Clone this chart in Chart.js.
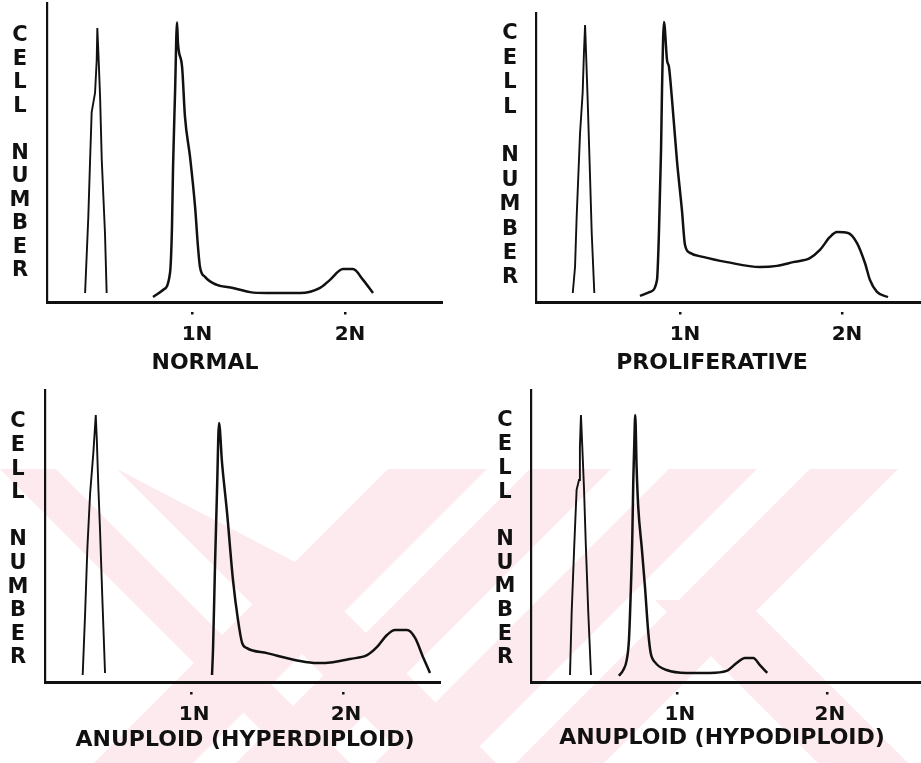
<!DOCTYPE html>
<html>
<head>
<meta charset="utf-8">
<script src="https://cdn.jsdelivr.net/npm/chart.js@4.4.1/dist/chart.umd.min.js"></script>
<style>
html,body{margin:0;padding:0;background:#fff;overflow:hidden}
#wrap{position:relative;width:921px;height:763px}
#wm{position:absolute;left:0;top:0}
canvas{position:absolute}
</style>
</head>
<body>
<div id="wrap">
<svg id="wm" width="921" height="763" xmlns="http://www.w3.org/2000/svg">
  <defs><clipPath id="band"><rect x="0" y="469" width="921" height="294"/></clipPath></defs>
  <g fill="#fdeaee" clip-path="url(#band)">
    <polygon points="0,469 56,469 350,763 294,763"/>
    <polygon points="117,469 295,562 496,763 411,763"/>
    <polygon points="388,469 487,469 193,763 94,763"/>
    <polygon points="530,469 611,469 317,763 236,763"/>
    <polygon points="669,469 757,469 463,763 375,763"/>
    <polygon points="810,469 898,469 604,763 516,763"/>
    <polygon points="655,600 745,600 908,763 818,763"/>
  </g>
</svg>
<canvas id="c1" width="460" height="380" style="left:0;top:0"></canvas>
<canvas id="c2" width="461" height="380" style="left:460px;top:0"></canvas>
<canvas id="c3" width="460" height="383" style="left:0;top:380px"></canvas>
<canvas id="c4" width="461" height="383" style="left:460px;top:380px"></canvas>
</div>
<script>
// ---- data (x in units of DNA content N, y in relative cell number) ----
const tickValues = [1, 2];
const tickSuffix = 'N';
const yAxisLabel = 'CELL NUMBER';
const captions = ['NORMAL', 'PROLIFERATIVE', 'ANUPLOID (HYPERDIPLOID)', 'ANUPLOID (HYPODIPLOID)'];

// NORMAL
const normalStdX = [0.301,0.322,0.333,0.344,0.366,0.377,0.381,0.388,0.399,0.410,0.431,0.442];
const normalStdY = [3.0,28.4,46.5,63.5,69.9,80.9,91.6,83.3,68.6,47.5,23.1,3.0];
const normalX = [0.745,0.810,0.856,0.869,0.876,0.889,0.902,0.908,0.935,0.954,0.987,1.020,1.039,1.052,1.085,1.163,1.268,1.379,1.490,1.595,1.706,1.837,1.902,1.987,2.052,2.118,2.183];
const normalY = [1.7,4.0,9.7,25.1,45.2,69.9,93.6,86.6,78.6,61.9,48.5,31.8,18.4,11.7,8.4,5.7,4.7,3.3,3.0,3.0,3.0,4.7,7.4,11.0,11.0,7.4,3.0];

// PROLIFERATIVE
const prolifStdX = [0.338,0.352,0.362,0.383,0.399,0.407,0.414,0.420,0.430,0.444,0.455,0.471];
const prolifStdY = [3.1,12.1,29.4,58.5,72.3,86.2,95.8,86.2,69.9,44.6,23.9,3.1];
const prolifX = [0.753,0.815,0.858,0.870,0.883,0.889,0.901,0.920,0.932,0.951,0.981,1.012,1.031,1.062,1.142,1.290,1.494,1.599,1.698,1.802,1.864,1.926,1.969,2.037,2.093,2.142,2.173,2.216,2.284];
const prolifY = [2.1,3.5,7.6,23.9,52.6,73.4,96.9,83.7,81.3,69.9,49.1,31.8,19.7,17.0,15.6,13.8,12.1,12.5,13.8,15.2,18.0,22.5,24.2,23.9,20.4,13.5,7.6,3.5,1.7];

// ANUPLOID (HYPERDIPLOID)
const hyperStdX = [0.287,0.303,0.318,0.336,0.357,0.373,0.380,0.390,0.401,0.416,0.434];
const hyperStdY = [2.4,23.6,46.2,64.7,78.4,91.4,82.9,66.8,52.1,29.1,3.1];
const hyperX = [1.138,1.145,1.158,1.171,1.184,1.204,1.237,1.276,1.309,1.336,1.368,1.500,1.717,1.829,1.934,2.046,2.158,2.224,2.289,2.342,2.421,2.474,2.526,2.572];
const hyperY = [2.4,12.0,40.8,65.8,88.7,75.0,57.9,34.9,21.2,13.4,11.6,9.9,7.2,6.5,6.8,7.9,9.2,12.0,16.1,17.8,17.8,15.1,8.6,3.1];

// ANUPLOID (HYPODIPLOID)
const hypoStdX = [0.287,0.298,0.315,0.331,0.347,0.353,0.360,0.369,0.380,0.393,0.409,0.427];
const hypoStdY = [2.4,23.6,46.2,65.8,69.2,80.5,91.4,80.5,66.8,46.2,23.6,2.4];
const hypoX = [0.613,0.642,0.665,0.680,0.691,0.702,0.709,0.715,0.722,0.731,0.742,0.765,0.787,0.809,0.825,0.853,0.931,1.065,1.220,1.331,1.398,1.453,1.509,1.553,1.602];
const hypoY = [2.1,4.1,7.5,14.4,29.1,48.6,69.2,80.5,91.4,73.6,59.9,46.2,32.5,16.8,9.9,6.8,4.1,3.1,3.1,3.8,6.5,8.2,8.2,5.8,3.1];

// ---- drawing ----
const INK = '#111111';
const FONT = '"DejaVu Sans", "Liberation Sans", sans-serif';
Chart.defaults.font.family = FONT;

const zip = (xs, ys) => xs.map((x, i) => ({x: x, y: ys[i]}));

const panelDecor = {
  id: 'panelDecor',
  afterDraw(chart, args, o) {
    const ctx = chart.ctx, xs = chart.scales.x, area = chart.chartArea;
    ctx.save();
    ctx.fillStyle = INK;
    xs.ticks.forEach(t => {
      const px = xs.getPixelForValue(t.value);
      ctx.fillRect(px - 1, area.bottom + o.dotGap, 2.5, 2.5);
    });
    ctx.textAlign = 'center';
    ctx.textBaseline = 'middle';
    ctx.font = 'bold 21px ' + FONT;
    const chars = Array.from(o.label);
    const step = (o.labelBottom - o.labelTop) / (chars.length - 1);
    chars.forEach((c, i) => { if (c !== ' ') ctx.fillText(c, o.labelX, o.labelTop + i * step); });
    ctx.font = 'bold 22px ' + FONT;
    ctx.fillText(o.caption, o.capX, o.capY);
    ctx.restore();
  }
};

function makePanel(id, std, sample, cfg) {
  const cv = document.getElementById(id);
  return new Chart(cv, {
    type: 'line',
    data: {
      datasets: [
        { data: std, borderColor: INK, borderWidth: 1.9, pointRadius: 0, tension: 0, fill: false },
        { data: sample, borderColor: INK, borderWidth: 2.5, pointRadius: 0, cubicInterpolationMode: 'monotone', fill: false }
      ]
    },
    options: {
      responsive: false,
      animation: false,
      events: [],
      layout: { padding: { left: cfg.left, top: cfg.top, right: cv.width - cfg.right, bottom: 0 } },
      plugins: {
        legend: { display: false },
        tooltip: { enabled: false },
        panelDecor: {
          label: yAxisLabel, labelX: cfg.labelX, labelTop: cfg.labelTop, labelBottom: cfg.labelBottom,
          caption: cfg.caption, capX: cfg.capX, capY: cfg.capY, dotGap: 10
        }
      },
      scales: {
        x: {
          type: 'linear', min: cfg.xmin, max: cfg.xmax,
          afterBuildTicks: s => { s.ticks = tickValues.map(v => ({ value: v })); },
          afterFit: s => { s.height = cv.height - cfg.bottom; },
          grid: { display: false, drawTicks: false },
          border: { display: true, color: INK, width: 3 },
          ticks: {
            color: INK, autoSkip: false, maxRotation: 0, padding: 21, labelOffset: cfg.labelOffset,
            font: { size: 20, weight: 'bold' },
            callback: v => v + tickSuffix
          }
        },
        y: {
          type: 'linear', min: 0, max: 100,
          afterFit: s => { s.width = 0; },
          grid: { display: false, drawTicks: false },
          border: { display: true, color: INK, width: 2.2 },
          ticks: { display: false }
        }
      }
    },
    plugins: [panelDecor]
  });
}

makePanel('c1', zip(normalStdX, normalStdY), zip(normalX, normalY), {
  left: 47, top: 3, right: 442, bottom: 302, xmin: 0.052, xmax: 2.634, labelOffset: 5,
  labelX: 20, labelTop: 36, labelBottom: 271, caption: captions[0], capX: 205, capY: 363
});
makePanel('c2', zip(prolifStdX, prolifStdY), zip(prolifX, prolifY), {
  left: 76, top: 13, right: 461, bottom: 302, xmin: 0.111, xmax: 2.488, labelOffset: 5,
  labelX: 50, labelTop: 34, labelBottom: 278, caption: captions[1], capX: 252, capY: 363
});
makePanel('c3', zip(hyperStdX, hyperStdY), zip(hyperX, hyperY), {
  left: 45, top: 10, right: 440, bottom: 302, xmin: 0.039, xmax: 2.638, labelOffset: 3,
  labelX: 18, labelTop: 42, labelBottom: 278, caption: captions[2], capX: 245, capY: 360
});
makePanel('c4', zip(hypoStdX, hypoStdY), zip(hypoX, hypoY), {
  left: 71, top: 10, right: 461, bottom: 302, xmin: 0.027, xmax: 2.627, labelOffset: 3,
  labelX: 45, labelTop: 41, labelBottom: 278, caption: captions[3], capX: 262, capY: 358
});
</script>
</body>
</html>
